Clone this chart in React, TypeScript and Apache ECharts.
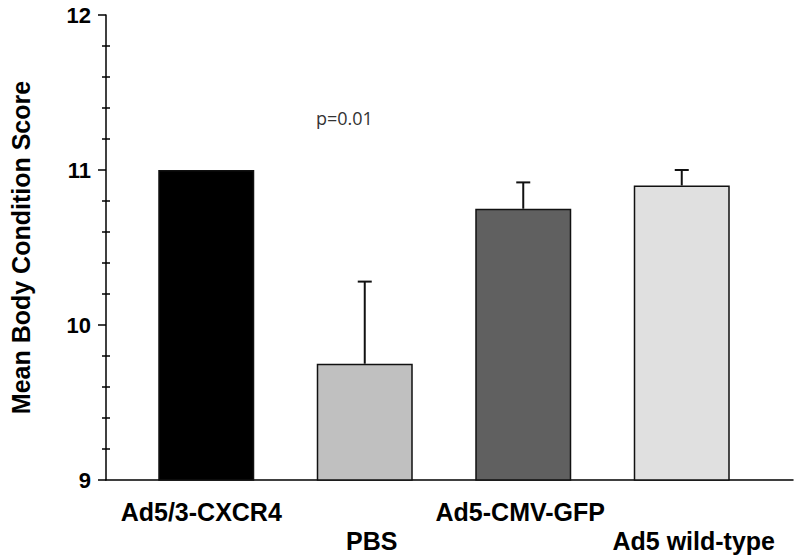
import React, { useEffect, useRef } from "react";
import * as echarts from "echarts";

const categories = ["Ad5/3-CXCR4", "PBS", "Ad5-CMV-GFP", "Ad5 wild-type"];
const means = [11.0, 9.75, 10.75, 10.9];
const errors = [0, 0.53, 0.17, 0.1];
const barColors = ["#000000", "#c0c0c0", "#606060", "#e0e0e0"];
const yMin = 9;
const yMax = 12;
const yInterval = 1;
const yAxisTitle = "Mean Body Condition Score";
const pValueText = "p=0.01";

// style-only horizontal nudges for the staggered category labels (px)
const labelNudge = [-5, 7, -3, 12];

const FONT = "'Liberation Sans', Arial, sans-serif";

export default function App() {
  const ref = useRef<HTMLDivElement>(null);

  useEffect(() => {
    document.body.style.margin = "0";
    if (!ref.current) return;
    const chart = echarts.init(ref.current, null, { renderer: "svg" });

    const errData = categories.map((_, i) => [i, means[i], errors[i]]);

    const rich: any = {};
    labelNudge.forEach((n, i) => {
      const top = i % 2 === 1 ? 29 : 0;
      rich["l" + i] = {
        fontSize: 25,
        fontWeight: "bold",
        fontFamily: FONT,
        color: "#000",
        padding: [top, n < 0 ? -2 * n : 0, 0, n > 0 ? 2 * n : 0],
      };
    });

    const option: any = {
      animation: false,
      backgroundColor: "#ffffff",
      grid: [
        { left: 95, right: 7, top: 15, bottom: 80 },
        { left: 127, right: 39, top: 15, bottom: 80 },
      ],
      xAxis: [
        {
          gridIndex: 0,
          type: "value",
          min: 0,
          max: 1,
          axisLine: { show: true, onZero: false, lineStyle: { color: "#000", width: 1.5 } },
          axisTick: { show: false },
          axisLabel: { show: false },
          splitLine: { show: false },
        },
        {
          gridIndex: 1,
          type: "category",
          data: categories,
          axisLine: { show: false },
          axisTick: { show: false },
          axisLabel: {
            interval: 0,
            margin: 19,
            formatter: (v: string, i: number) => `{l${i}|${v}}`,
            rich,
          },
        },
      ],
      yAxis: [
        {
          gridIndex: 0,
          type: "value",
          min: yMin,
          max: yMax,
          interval: yInterval,
          name: yAxisTitle,
          nameLocation: "middle",
          nameGap: 73,
          nameTextStyle: { fontSize: 25, fontWeight: "bold", fontFamily: FONT, color: "#000" },
          axisLine: { show: true, lineStyle: { color: "#000", width: 1.5 } },
          axisTick: { show: true, length: 8, lineStyle: { color: "#000", width: 1.5 } },
          minorTick: { show: false },
          axisLabel: { margin: 15, fontSize: 22, fontWeight: "bold", fontFamily: FONT, color: "#000" },
          splitLine: { show: false },
        },
        {
          gridIndex: 0,
          type: "value",
          min: yMin,
          max: yMax,
          interval: yInterval,
          position: "left",
          offset: 4,
          axisLine: { show: false },
          axisTick: { show: false, inside: true },
          minorTick: { show: true, splitNumber: 5, length: 8, lineStyle: { color: "#000", width: 1.5 } },
          axisLabel: { show: false },
          splitLine: { show: false },
        },
        {
          gridIndex: 1,
          type: "value",
          min: yMin,
          max: yMax,
          show: false,
          splitLine: { show: false },
        },
      ],
      series: [
        {
          type: "bar",
          xAxisIndex: 1,
          yAxisIndex: 2,
          barWidth: 96,
          data: means.map((m, i) => ({
            value: m,
            itemStyle: { color: barColors[i], borderColor: "#111", borderWidth: 1.5 },
          })),
        },
        {
          type: "custom",
          xAxisIndex: 1,
          yAxisIndex: 2,
          z: 5,
          data: errData,
          renderItem: (params: any, api: any) => {
            const idx = api.value(0);
            const mean = api.value(1);
            const err = api.value(2);
            if (!err) return { type: "group", children: [] };
            const base = api.coord([idx, mean]);
            const top = api.coord([idx, mean + err]);
            const half = 7;
            const style = { stroke: "#111", lineWidth: 2 };
            return {
              type: "group",
              children: [
                { type: "line", shape: { x1: base[0], y1: base[1], x2: top[0], y2: top[1] }, style },
                { type: "line", shape: { x1: top[0] - half, y1: top[1], x2: top[0] + half, y2: top[1] }, style },
              ],
            };
          },
        },
      ],
      graphic: [
        {
          type: "text",
          left: 316,
          top: 109,
          style: {
            text: pValueText,
            fontSize: 18,
            fontFamily: "'Open Sans', 'Noto Sans', sans-serif",
            fill: "#333",
          },
        },
      ],
    };

    chart.setOption(option);
    return () => chart.dispose();
  }, []);

  return <div ref={ref} style={{ width: 800, height: 560 }} />;
}
